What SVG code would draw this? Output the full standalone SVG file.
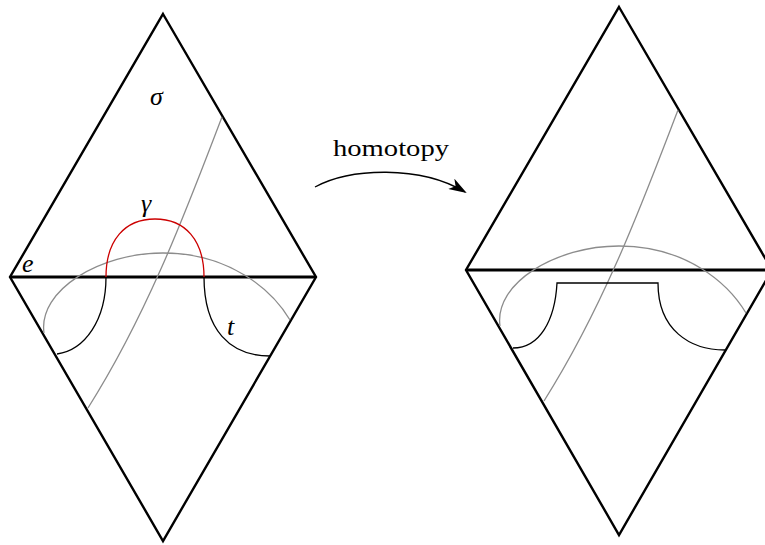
<svg xmlns="http://www.w3.org/2000/svg" width="765" height="545" viewBox="0 0 765 545">
<defs>
<style>
.frame{fill:none;stroke:#000;stroke-width:2.4;stroke-linejoin:miter}
.edge{fill:none;stroke:#000;stroke-width:2.8}
.gray{fill:none;stroke:#8c8c8c;stroke-width:1.3}
.curve{fill:none;stroke:#000;stroke-width:1.3}
.red{fill:none;stroke:#cc0000;stroke-width:1.3}
.math{font-family:"Liberation Serif","DejaVu Serif",serif;font-style:italic;font-size:26px;fill:#000}
.lbl{font-family:"Liberation Serif","DejaVu Serif",serif;font-size:24px;fill:#000}
</style>
<marker id="arr" viewBox="0 0 18 12" refX="16" refY="6" markerWidth="18" markerHeight="12" markerUnits="userSpaceOnUse" orient="auto">
<path d="M0,0 L18,6 L0,12 L5,6 Z" fill="#000"/>
</marker>
</defs>
<g id="left">
<path class="frame" d="M163,14 L316,277 L163,541 L10,277 Z"/>
<line class="edge" x1="10" y1="277" x2="316" y2="277"/>
<path class="gray" d="M222,117 C190,200 150,310 88,408"/>
<path class="gray" d="M44,333 C38,290 100,253 163,253 C230,253 272,290 290,320"/>
<path class="red" d="M106,277 C106,240 125,219 155,219 C185,219 204,240 204,277"/>
<path class="curve" d="M106,277 C106,320 85,350 57,354"/>
<path class="curve" d="M204,277 C204,330 230,356 270,356"/>
<text class="math" x="150" y="105">σ</text>
<text class="math" x="141" y="212">γ</text>
<text class="math" x="22" y="272">e</text>
<text class="math" x="227" y="335">t</text>
</g>
<g id="right">
<path class="frame" d="M619,7 L772,270 L619,535 L466,270 Z"/>
<line class="edge" x1="466" y1="270" x2="765" y2="270"/>
<path class="gray" d="M678,110 C646,193 606,303 544,401"/>
<path class="gray" d="M500,326 C494,283 556,246 619,246 C686,246 728,283 746,313"/>
<path class="curve" d="M513,348 C540,348 555,320 557,283 L658,283 C658,330 690,350 725,350"/>
</g>
<g id="connectors">
<path class="curve" d="M315,187 C350,168 420,165 465,192" marker-end="url(#arr)" stroke-width="1.5"/>
<text class="lbl" x="333" y="156" textLength="116" lengthAdjust="spacingAndGlyphs">homotopy</text>
</g>
</svg>
